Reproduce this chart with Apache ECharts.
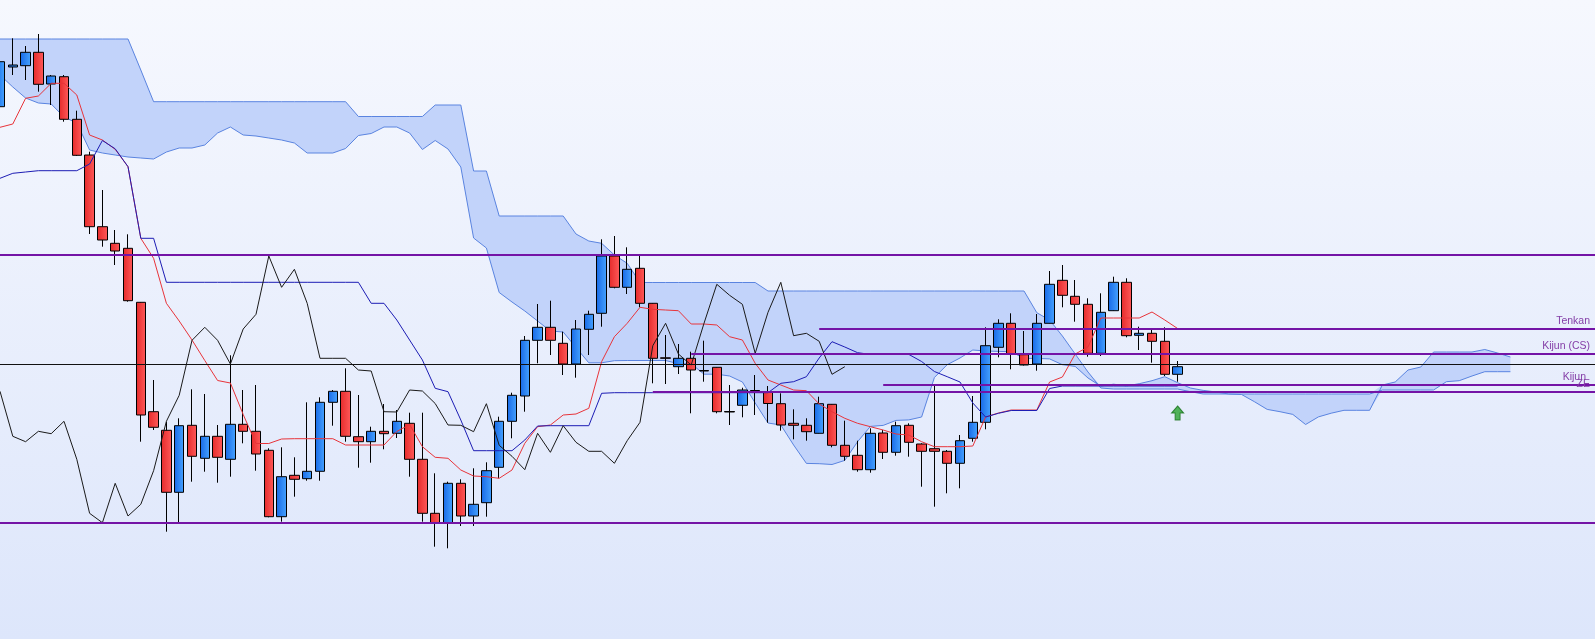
<!DOCTYPE html>
<html>
<head>
<meta charset="utf-8">
<title>Ichimoku</title>
<script src="https://cdn.jsdelivr.net/npm/echarts@6/dist/echarts.min.js"></script>
<style>
  html, body { margin: 0; padding: 0; }
  #chart { width: 1595px; height: 639px; }
</style>
</head>
<body>
<div id="chart"></div>
<script>
// 93 candles + 26 forward bars for the cloud + a little right margin
const categories = Array.from({ length: 126 }, (_, i) => String(i + 1));

// [open, close, low, high]
const ohlc = [
  [59.33, 63.83, 59.30, 64.20], [63.30, 63.50, 62.50, 66.17], [63.43, 64.77, 62.00, 65.40],
  [64.77, 61.57, 60.83, 66.60], [61.60, 62.40, 59.50, 62.50], [62.33, 58.07, 57.83, 62.50],
  [58.07, 54.47, 54.40, 58.93], [54.50, 47.33, 46.60, 54.83], [47.33, 46.00, 45.33, 51.00],
  [45.67, 44.90, 43.50, 47.00], [45.17, 39.93, 39.83, 46.57], [39.77, 28.50, 25.83, 39.80],
  [28.83, 27.27, 27.00, 32.00], [26.97, 20.77, 16.83, 27.83], [20.77, 27.43, 17.73, 28.17],
  [27.47, 24.37, 21.83, 31.07], [24.17, 26.37, 22.83, 30.60], [26.37, 24.27, 21.73, 27.50],
  [24.07, 27.57, 22.33, 34.47], [27.57, 26.87, 25.67, 31.00], [26.87, 24.60, 22.93, 31.50],
  [24.97, 18.33, 18.27, 25.17], [18.33, 22.33, 17.83, 25.27], [22.47, 22.07, 20.33, 24.27],
  [22.13, 22.87, 21.93, 29.77], [22.87, 29.77, 21.93, 30.27], [29.77, 30.87, 27.43, 31.00],
  [30.87, 26.37, 25.83, 33.17], [26.33, 25.83, 23.23, 30.50], [25.83, 26.87, 23.73, 27.33],
  [26.87, 26.63, 25.07, 29.60], [26.67, 27.87, 26.20, 29.00], [27.67, 24.07, 22.33, 28.73],
  [24.07, 18.67, 17.83, 28.73], [18.67, 17.73, 15.33, 22.67], [17.73, 21.67, 15.17, 21.83],
  [21.67, 18.40, 17.40, 22.07], [18.40, 19.57, 17.40, 23.17], [19.73, 22.93, 18.33, 23.77],
  [23.27, 27.87, 22.17, 28.33], [27.87, 30.47, 26.17, 30.73], [30.40, 35.97, 28.83, 36.40],
  [35.97, 37.27, 33.67, 39.60], [37.27, 35.97, 34.50, 39.93], [35.67, 33.60, 32.50, 36.83],
  [33.60, 37.10, 32.23, 38.00], [37.07, 38.57, 34.50, 38.93], [38.67, 44.40, 37.33, 46.07],
  [44.40, 41.27, 41.17, 46.40], [41.27, 43.07, 40.60, 45.27], [43.17, 39.67, 39.27, 44.40],
  [39.67, 34.17, 31.67, 39.70], [34.22, 34.17, 31.60, 36.50], [33.33, 34.17, 32.60, 35.60],
  [34.17, 33.00, 28.67, 34.83], [32.95, 32.90, 31.83, 35.93], [33.27, 28.83, 28.67, 33.30],
  [28.85, 28.80, 27.50, 31.50], [29.47, 31.00, 28.27, 31.23], [30.95, 30.90, 28.50, 32.50],
  [30.80, 29.65, 27.73, 31.40], [29.63, 27.50, 26.93, 30.67], [27.67, 27.47, 26.07, 29.07],
  [27.47, 26.83, 25.93, 28.17], [26.67, 29.63, 26.65, 30.33], [29.57, 25.47, 25.27, 29.60],
  [25.47, 24.37, 23.93, 27.93], [24.47, 23.03, 22.83, 25.93], [23.03, 26.67, 22.73, 27.17],
  [26.70, 24.77, 24.10, 27.00], [24.77, 27.43, 24.43, 27.83], [27.47, 25.77, 24.33, 27.67],
  [25.60, 24.87, 21.33, 25.67], [25.13, 24.87, 19.33, 31.50], [24.87, 23.67, 20.67, 25.00],
  [23.67, 25.93, 21.17, 26.50], [26.17, 27.77, 25.83, 30.40], [27.77, 35.43, 27.07, 37.27],
  [35.27, 37.67, 34.27, 38.07], [37.67, 34.60, 33.07, 38.67], [34.53, 33.50, 33.45, 36.90],
  [33.60, 37.67, 32.93, 38.60], [37.67, 41.57, 37.65, 42.90], [41.97, 40.47, 39.27, 43.50],
  [40.37, 39.57, 37.83, 42.00], [39.57, 34.67, 34.33, 40.17], [34.67, 38.77, 34.40, 40.67],
  [38.93, 41.77, 38.90, 42.33], [41.77, 36.43, 36.27, 42.17], [36.47, 36.67, 35.00, 37.33],
  [36.67, 35.87, 33.73, 37.13], [35.87, 32.57, 32.40, 37.27], [32.57, 33.33, 31.83, 33.90]
];

const tenkan = [
  57.27, 57.60, 60.17, 60.40, 61.67, 61.67, 60.50, 56.50, 56.00, 55.07,
  53.33, 46.17, 44.17, 39.67, 37.90, 36.00, 33.95, 31.95, 31.70, 28.55,
  25.65, 25.65, 26.10, 26.13, 26.13, 26.13, 26.13, 25.50, 25.50, 25.50,
  25.50, 26.85, 27.55, 25.33, 24.27, 24.17, 23.00, 22.40, 22.33, 22.17,
  23.00, 25.67, 27.33, 27.50, 28.50, 28.60, 29.17, 33.83, 36.33, 37.67,
  39.27, 39.07, 39.00, 38.93, 37.60, 37.60, 37.50, 36.33, 36.00, 33.67,
  32.00, 31.50, 31.00, 30.93, 29.60, 28.83, 28.17, 27.67, 27.33, 27.00,
  26.60, 26.50, 25.83, 25.33, 25.33, 25.33, 25.40, 28.30, 28.70, 29.00,
  29.00, 29.00, 31.80, 32.30, 34.60, 35.30, 38.20, 38.20, 38.20, 38.20,
  38.80, 38.00, 37.15
];

const kijun = [
  52.17, 52.67, 52.80, 52.93, 52.93, 52.93, 52.93, 53.60, 55.95, 55.12,
  53.33, 46.17, 46.17, 41.77, 41.77, 41.77, 41.77, 41.77, 41.77, 41.77,
  41.77, 41.77, 41.77, 41.77, 41.77, 41.77, 41.77, 41.77, 41.77, 39.67,
  39.67, 38.00, 36.00, 34.00, 31.17, 30.83, 28.00, 24.93, 24.93, 24.93,
  24.93, 26.00, 27.40, 27.43, 27.43, 27.43, 27.43, 30.67, 30.73, 30.73,
  30.73, 30.73, 30.73, 30.73, 30.73, 30.73, 30.73, 30.73, 30.73, 30.73,
  30.73, 31.67, 31.83, 32.33, 34.20, 35.83, 35.30, 34.73, 34.56, 34.56,
  34.56, 34.56, 33.85, 32.85, 32.33, 31.80, 29.70, 28.30, 28.67, 28.95,
  28.95, 28.95, 31.15, 31.40, 31.40, 31.40, 31.40, 31.40, 31.40, 31.40,
  31.40, 31.40, 31.40
];

// lagging span, drawn 26 bars back
const chikou = [
  30.87, 26.37, 25.83, 26.87, 26.63, 27.87, 24.07, 18.67, 17.73, 21.67,
  18.40, 19.57, 22.93, 27.87, 30.47, 35.97, 37.27, 35.97, 33.60, 37.10,
  38.57, 44.40, 41.27, 43.07, 39.67, 34.17, 34.17, 34.17, 33.00, 32.90,
  28.83, 28.80, 31.00, 30.90, 29.65, 27.50, 27.47, 26.83, 29.63, 25.47,
  24.37, 23.03, 26.67, 24.77, 27.43, 25.77, 24.87, 24.87, 23.67, 25.93,
  27.77, 35.43, 37.67, 34.60, 33.50, 37.67, 41.57, 40.47, 39.57, 34.67,
  38.77, 41.77, 36.43, 36.67, 35.87, 32.57, 33.33
];

const senkouA = [
  62.50, 61.30, 60.20, 59.70, 59.60, 58.30, 57.70, 55.00, 54.70, 54.50,
  54.30, 54.20, 54.10, 54.80, 55.20, 55.20, 55.50, 56.70, 57.30, 56.50,
  56.40, 56.20, 56.00, 55.70, 54.70, 54.70, 54.70, 55.15, 56.45, 56.65,
  57.30, 57.30, 56.70, 55.05, 55.95, 55.10, 53.30, 46.20, 45.20, 40.75,
  39.80, 38.90, 37.90, 36.90, 36.80, 35.25, 33.72, 33.72, 33.93, 33.95,
  33.95, 33.95, 33.95, 33.63, 33.63, 32.58, 32.58, 32.40, 31.80, 29.70,
  27.70, 27.50, 25.50, 23.66, 23.63, 23.55, 23.96, 25.83, 27.36, 27.46,
  27.96, 28.01, 28.30, 32.25, 33.53, 34.20, 35.00, 34.90, 34.86, 34.83,
  34.16, 34.16, 34.11, 33.53, 33.36, 32.20, 31.40, 31.58, 31.41, 31.63,
  31.93, 32.33, 31.73, 31.20, 30.96, 30.80, 30.60, 30.55, 29.83, 29.06,
  28.83, 28.56, 27.55, 28.31, 28.68, 28.97, 28.97, 28.97, 31.50, 31.80,
  33.00, 33.30, 34.80, 34.80, 34.80, 34.80, 35.05, 34.70, 34.30
];

const senkouB = [
  66.10, 66.10, 66.10, 66.10, 66.10, 66.10, 66.10, 66.10, 66.10, 66.10,
  66.10, 63.00, 59.83, 59.83, 59.83, 59.83, 59.83, 59.83, 59.83, 59.83,
  59.83, 59.83, 59.83, 59.83, 59.83, 59.83, 59.83, 59.83, 58.35, 58.35,
  58.35, 58.35, 58.35, 58.35, 59.50, 59.50, 59.50, 52.90, 52.90, 48.40,
  48.40, 48.40, 48.40, 48.40, 48.40, 46.60, 45.90, 45.67, 44.50, 43.67,
  41.75, 41.75, 41.75, 41.75, 41.75, 41.75, 41.75, 41.75, 41.75, 41.75,
  40.90, 40.90, 40.90, 40.90, 40.90, 40.90, 40.90, 40.90, 40.90, 40.90,
  40.90, 40.90, 40.90, 40.90, 40.90, 40.90, 40.90, 40.90, 40.90, 40.90,
  40.90, 38.73, 38.00, 36.40, 34.60, 32.80, 31.20, 31.10, 31.10, 31.10,
  31.10, 31.10, 31.10, 30.83, 30.60, 30.60, 30.60, 30.60, 30.60, 30.60,
  30.60, 30.60, 30.60, 30.60, 30.60, 30.60, 30.60, 30.60, 31.00, 31.00,
  31.00, 31.00, 31.00, 31.83, 31.93, 32.40, 32.83, 32.83, 32.83
];

// horizontal levels: value and first bar
const levelNames = ['', '', '', 'Tenkan', 'Kijun (CS)', 'Kijun', 'ZE'];
const levelValues = [44.50, 17.73, 33.60, 37.13, 34.63, 31.50, 30.83];
const levelStart = [0, 0, 0, 64, 54, 69, 51];

// buy signal arrow [bar, price]
const signals = [[92, 28.70]];

const chart = echarts.init(document.getElementById('chart'));

// cloud fill = lower edge + stacked band
const kumoBase = senkouA.map((a, i) => Math.min(a, senkouB[i]));
const kumoBand = senkouA.map((a, i) => Math.abs(a - senkouB[i]));

function grad(c1, c2) {
    return new echarts.graphic.LinearGradient(0, 0, 1, 0, [
        { offset: 0, color: c1 },
        { offset: 1, color: c2 }
    ]);
}

const lastBar = categories.length - 1;
const levelLines = levelValues.map((v, i) => {
    const named = levelNames[i] !== '';
    const black = i === 2;
    return [{
        name: levelNames[i],
        coord: [levelStart[i], v],
        lineStyle: { color: black ? '#111' : '#7414a6', width: black ? 1 : 2.2, type: 'solid' },
        label: { show: named, distance: [i === 5 ? 14 : 10, 2] }
    }, {
        coord: [lastBar, v]
    }];
});

function plainLine(name, data, color, z) {
    return {
        name: name,
        type: 'line',
        data: data,
        symbol: 'none',
        silent: true,
        z: z,
        lineStyle: { color: color, width: 1 },
        emphasis: { disabled: true }
    };
}

const option = {
    animation: false,
    backgroundColor: new echarts.graphic.LinearGradient(0, 0, 0, 1, [
        { offset: 0, color: '#f6f8fe' },
        { offset: 1, color: '#dde6fb' }
    ]),
    grid: { left: 0, right: -5, top: 0, bottom: 0, containLabel: false, outerBoundsMode: 'none' },
    xAxis: {
        type: 'category',
        data: categories,
        boundaryGap: false,
        show: false
    },
    yAxis: {
        type: 'value',
        min: 6.1,
        max: 70,
        show: false
    },
    series: [
        {
            name: 'kumoBase',
            type: 'line',
            stack: 'kumo',
            data: kumoBase,
            symbol: 'none',
            silent: true,
            z: 1,
            lineStyle: { opacity: 0 }
        },
        {
            name: 'kumo',
            type: 'line',
            stack: 'kumo',
            data: kumoBand,
            symbol: 'none',
            silent: true,
            z: 1,
            lineStyle: { opacity: 0 },
            areaStyle: { color: '#c2d3fa', opacity: 1 }
        },
        plainLine('Senkou A', senkouA, '#5a84e0', 2),
        plainLine('Senkou B', senkouB, '#5a84e0', 2),
        {
            name: 'price',
            type: 'candlestick',
            data: ohlc,
            barWidth: 10,
            silent: true,
            z: 3,
            itemStyle: {
                color: grad('#1768e6', '#46a3ff'),
                color0: grad('#e52a2a', '#ff5a5a'),
                borderColor: '#000',
                borderColor0: '#000',
                borderWidth: 1
            }
        },
        plainLine('Tenkan', tenkan, '#e8343a', 4),
        plainLine('Kijun', kijun, '#1d1db4', 4),
        Object.assign(plainLine('Chikou', chikou, '#1a1a1a', 4), {
            markLine: {
                silent: true,
                symbol: ['none', 'none'],
                animation: false,
                label: {
                    position: 'insideEndTop',
                    formatter: '{b}',
                    color: '#8540a8',
                    fontFamily: 'Liberation Sans',
                    fontSize: 10.5
                },
                data: levelLines
            }
        }),
        {
            name: 'signal',
            type: 'scatter',
            data: signals,
            silent: true,
            z: 6,
            symbol: 'path://M6,0 L12,7 L8.5,7 L8.5,14 L3.5,14 L3.5,7 L0,7 Z',
            symbolSize: [12, 14],
            itemStyle: { color: '#2ca330', borderColor: '#16701a', borderWidth: 1 }
        }
    ]
};

chart.setOption(option);
</script>
</body>
</html>
